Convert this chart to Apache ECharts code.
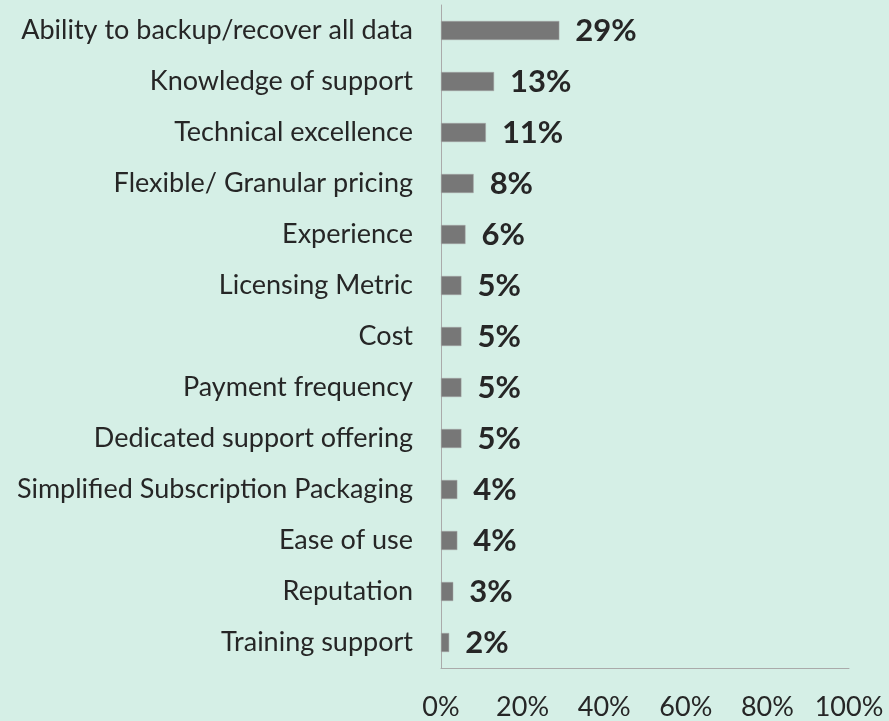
<!DOCTYPE html>
<html>
<head>
<meta charset="utf-8">
<script src="https://cdn.jsdelivr.net/npm/echarts@6/dist/echarts.min.js"></script>
<style>
html, body { margin: 0; padding: 0; background: #d5efe6; }
#chart { width: 889px; height: 721px; }
</style>
</head>
<body>
<div id="chart"></div>
<script>
var categories = ['Ability to backup/recover all data', 'Knowledge of support', 'Technical excellence',
	'Flexible/ Granular pricing', 'Experience', 'Licensing Metric', 'Cost', 'Payment frequency',
	'Dedicated support offering', 'Simplified Subscription Packaging', 'Ease of use', 'Reputation',
	'Training support'];
var values = [29, 13, 11, 8, 6, 5, 5, 5, 5, 4, 4, 3, 2];

var chart = echarts.init(document.getElementById('chart'));

var option = {
	backgroundColor : '#d5efe6',
	textStyle : { fontFamily : 'Lato' },
	grid : { left : 441, right : 40, top : 5, bottom : 52 },
	xAxis : {
		type : 'value',
		min : 0,
		max : 100,
		interval : 20,
		axisLine : { show : true, lineStyle : { color : '#aaaaaa', width : 1 } },
		axisTick : { show : false },
		splitLine : { show : false },
		axisLabel : {
			formatter : '{value}%',
			color : '#262626',
			fontSize : 27,
			margin : 26
		}
	},
	yAxis : {
		type : 'category',
		inverse : true,
		data : categories,
		axisLine : { show : true, lineStyle : { color : '#aaaaaa', width : 1 } },
		axisTick : { show : false },
		axisLabel : {
			color : '#262626',
			fontSize : 27,
			margin : 28
		}
	},
	series : [ {
		type : 'bar',
		data : values,
		barWidth : 19,
		itemStyle : { color : '#777777', borderColor : '#a6a6a6', borderWidth : 0.5 },
		label : {
			show : true,
			position : 'right',
			distance : 16,
			formatter : '{c}%',
			color : '#262626',
			fontSize : 31,
			fontWeight : 'bold'
		}
	} ]
};

chart.setOption(option);
</script>
</body>
</html>
